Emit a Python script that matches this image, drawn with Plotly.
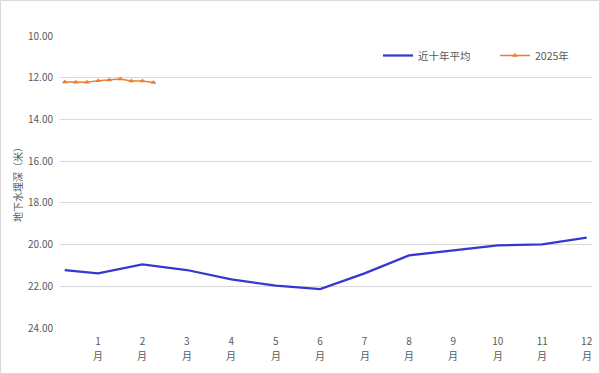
import plotly.graph_objects as go

# Data
month_nums = [str(i) for i in range(1, 13)]
month_unit = "月"
month_pos = list(range(1, 13))

avg_x = [0.25, 1, 2, 3, 4, 5, 6, 7, 8, 9, 10, 11, 12]
avg_y = [21.22, 21.38, 20.95, 21.22, 21.67, 21.97, 22.13, 21.38, 20.52, 20.28, 20.04, 19.99, 19.67]

y2025_x = [0.25, 0.5, 0.75, 1.0, 1.25, 1.5, 1.75, 2.0, 2.25]
y2025_y = [12.20, 12.22, 12.22, 12.14, 12.11, 12.06, 12.16, 12.16, 12.23]

y_ticks = [10, 12, 14, 16, 18, 20, 22, 24]

W, H = 600, 374
L, R, T, B = 60, 8, 36, 46
pw, ph = W - L - R, H - T - B

font_fam = "Noto Sans CJK SC, Noto Sans, sans-serif"
grey = "#595959"

fig = go.Figure()
fig.add_trace(go.Scatter(
    x=avg_x, y=avg_y, name="近十年平均", mode="lines",
    line=dict(color="#3636D0", width=2.25),
))
fig.add_trace(go.Scatter(
    x=y2025_x, y=y2025_y, name="2025年", mode="lines+markers",
    line=dict(color="#ED7D31", width=1.5),
    marker=dict(symbol="triangle-up", size=5, color="#ED7D31"),
))

def px_x(p):
    return (p - L) / pw

def px_y(p):
    return (H - B - p) / ph

fig.add_shape(type="rect", xref="paper", yref="paper",
              x0=px_x(0.5), x1=px_x(599.5), y0=px_y(373.5), y1=px_y(0.5),
              line=dict(color="#d9d9d9", width=1), layer="below")

# second line of the month tick labels
for xp in month_pos:
    fig.add_annotation(x=xp, xref="x", y=px_y(355), yref="paper",
                       text=month_unit, showarrow=False,
                       font=dict(size=10, color=grey, family=font_fam),
                       xanchor="center", yanchor="middle")

fig.update_layout(
    width=W, height=H,
    margin=dict(l=L, r=R, t=T, b=B, autoexpand=False),
    paper_bgcolor="white", plot_bgcolor="white",
    font=dict(family=font_fam, size=10, color=grey),
    showlegend=True,
    legend=dict(orientation="h", x=px_x(378), y=px_y(41), xanchor="left", yanchor="top",
                font=dict(size=10.5, color=grey), bgcolor="rgba(0,0,0,0)",
                itemwidth=30, tracegroupgap=0, entrywidth=72, entrywidthmode="pixels"),
    xaxis=dict(range=[0.144, 12.12], tickmode="array", tickvals=month_pos, ticktext=month_nums,
               showgrid=False, zeroline=False, showline=False, ticks="", ticklabelstandoff=6,
               tickfont=dict(size=10, color=grey), automargin=False),
    yaxis=dict(range=[24, 10], tickmode="array", tickvals=y_ticks,
               ticktext=[f"{v:.2f}" for v in y_ticks],
               showgrid=True, gridcolor="#d9d9d9", gridwidth=1, zeroline=False,
               showline=False, ticks="", ticklen=0, ticklabelstandoff=6,
               tickfont=dict(size=10, color=grey), automargin=False,
               title=dict(text="地下水埋深（米）", font=dict(size=10, color=grey), standoff=3)),
)

fig.write_html("out.html", config={"displayModeBar": False},
               post_script="document.body.style.margin='0';document.body.style.padding='0';")
